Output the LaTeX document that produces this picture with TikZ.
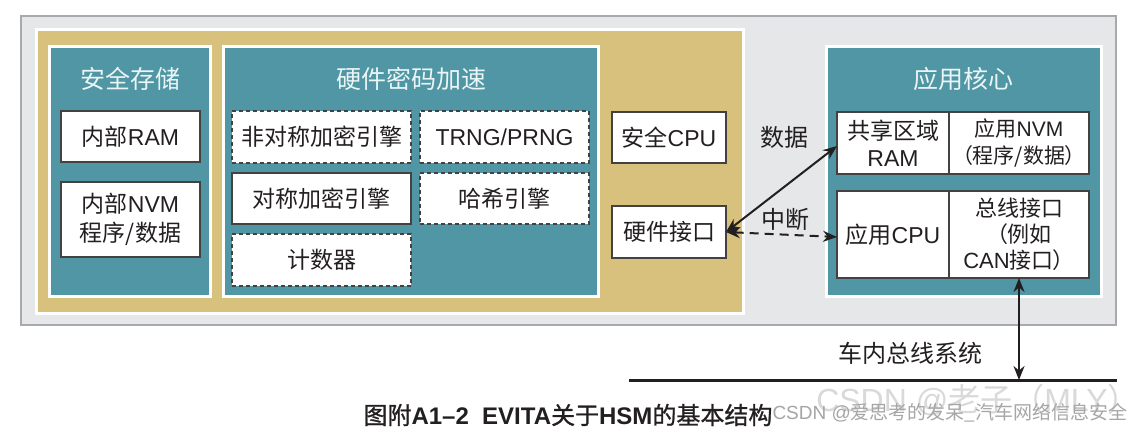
\documentclass[tikz,border=0pt]{standalone}
\usepackage{fontspec}
\setmainfont{Noto Sans CJK SC}
\newfontfamily\capfont[FakeBold=1]{Noto Sans CJK SC}
\newfontfamily\lat{Liberation Sans}
\usetikzlibrary{arrows.meta}
\definecolor{bggray}{HTML}{E6E7E8}
\definecolor{framegray}{HTML}{A7A9AC}
\definecolor{hsmtan}{HTML}{D7C17D}
\definecolor{hsmteal}{HTML}{5096A5}
\definecolor{inkc}{HTML}{231F20}
\definecolor{titlec}{HTML}{EAF5F5}
\newcommand\bx[7]{\node[#6, minimum width={(#4-#2)*1pt}, minimum height={(#5-#3)*1pt}] (#1) at ({(#2+#4)/2},{(#3+#5)/2}) {#7};}
\newcommand\lp{（\hspace{-1pt}}
\newcommand\rp{\hspace{-1pt}）}
\tikzset{
  every node/.style={inner sep=0pt, outer sep=0pt},
  panel/.style={fill=hsmteal, draw=white, line width=3pt},
  title/.style={text=titlec, font=\fontsize{25}{29}\selectfont},
  solidbox/.style={fill=white, draw=inkc!85, line width=1.5pt, text=inkc, font=\fontsize{23}{29}\selectfont, align=center},
  dashbox/.style={solidbox, dash pattern=on 4pt off 3pt},
  lbl/.style={text=inkc, font=\fontsize{24}{28}\selectfont},
  arr/.style={line width=2pt, draw=inkc, {Stealth[length=14pt,width=11pt]}-{Stealth[length=14pt,width=11pt]}},
}
\begin{document}
\begin{tikzpicture}[x=1pt,y=-1pt]
\useasboundingbox (0,0) rectangle (1139,435);
\fill[white] (0,0) rectangle (1139,435);
% outer gray frame
\bx{outer}{21}{16}{1116}{325}{fill=bggray, draw=framegray, line width=1.5pt}{}
% tan HSM area
\bx{hsm}{36.5}{29.5}{743.5}{313.5}{fill=hsmtan, draw=white, line width=3pt}{}
% panels
\bx{store}{49.5}{46.5}{210.5}{296.5}{panel}{}
\bx{crypto}{223.5}{46.5}{598.5}{296.5}{panel}{}
\bx{core}{826.5}{46.5}{1101.5}{296.5}{panel}{}
\node[title] (tstore) at (130,79) {安全存储};
\node[title] (tcrypto) at (411,79) {硬件密码加速};
\node[title] (tcore) at (963,79) {应用核心};
% secure storage
\bx{iram}{61}{111}{200}{162}{solidbox}{内部{\lat RAM}}
\bx{invm}{61}{182}{200}{257}{solidbox}{内部{\lat NVM}\\程序/数据}
% crypto engines
\bx{asym}{232}{111}{411}{163}{dashbox}{非对称加密引擎}
\bx{trng}{420}{111}{589}{163}{dashbox}{{\lat TRNG/PRNG}}
\bx{sym}{232}{173}{411}{224}{solidbox}{对称加密引擎}
\bx{hash}{420}{173}{589}{224}{dashbox}{哈希引擎}
\bx{cnt}{232}{234}{411}{286}{dashbox}{计数器}
% CPU and interface
\bx{scpu}{612}{112}{726}{163}{solidbox}{安全{\lat CPU}}
\bx{hwif}{612}{206}{726}{258}{solidbox}{硬件接口}
% application core
\bx{shram}{837}{112}{949}{174}{solidbox, font=\fontsize{23}{27}\selectfont}{共享区域\\{\lat RAM}}
\bx{anvm}{949}{112}{1089}{174}{solidbox, font=\fontsize{21}{27}\selectfont}{应用{\lat NVM}\\\lp 程序/数据\rp}
\bx{acpu}{837}{191}{949}{278}{solidbox}{应用{\lat CPU}}
\bx{busif}{949}{191}{1089}{278}{solidbox, font=\fontsize{22}{26}\selectfont}{总线接口\\\lp 例如\\{\lat CAN}接口\rp}
% connectors
\draw[arr] (hwif.east) -- ([yshift=-3pt]shram.west);
\draw[arr, dash pattern=on 9pt off 6pt] (hwif.east) -- ([yshift=-2.5pt]acpu.west);
\node[lbl] (ldata) at (784,137) {数据};
\node[lbl] (lint) at (785,219) {中断};
% bus
\coordinate (bl) at (629,380);
\coordinate (br) at (1117,380);
\draw[line width=3pt, inkc] (bl) -- (br);
\draw[arr] (busif.south) -- (busif.south |- bl);
\node[lbl] (lbus) at (910,353) {车内总线系统};
% caption and watermarks
\node[text=gray!30, font=\fontsize{32}{36}\selectfont] (wm1) at (978,400) {{\lat CSDN @}老子（{\lat MLY}）};
\node[text=inkc, font=\capfont\fontsize{24}{28}\selectfont] (cap) at (568,415) {图附{\lat\bfseries A1–2\ \ EVITA}关于{\lat\bfseries HSM}的基本结构};
\node[text=gray!70, font=\fontsize{19}{22}\selectfont] (wm2) at (950,413) {{\lat CSDN @}爱思考的发呆\_汽车网络信息安全};
\end{tikzpicture}
\end{document}
